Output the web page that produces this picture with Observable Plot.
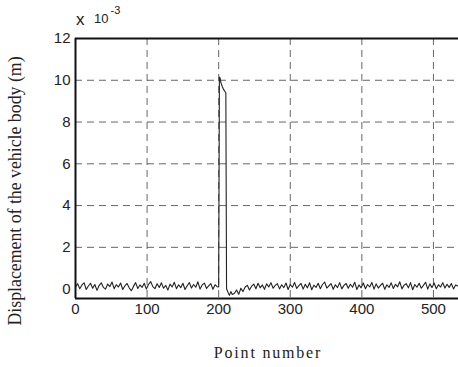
<!DOCTYPE html>
<html>
<head>
<meta charset="utf-8">
<script src="https://cdn.jsdelivr.net/npm/d3@7"></script>
<script src="https://cdn.jsdelivr.net/npm/@observablehq/plot@0.6"></script>
<style>
html,body{margin:0;padding:0;background:#fff;}
</style>
</head>
<body>
<div id="chart"></div>
<script>
const xTicks = [0, 100, 200, 300, 400, 500];
const yTicks = [0, 2, 4, 6, 8, 10, 12];
const yLabel = "Displacement of the vehicle body (m)";
const xLabel = "Point number";
const scaleBase = "10";
const scaleExp = "-3";

// displacement (x 10^-3 m), points 0..198 every 3 points
const preSpike = [
  0.10,0.26,0.02,0.20,0.30,-0.02,0.15,0.28,0.04,0.22,
  -0.06,0.17,0.30,0.08,0.00,0.24,0.12,0.34,0.02,0.21,
  0.10,0.29,-0.02,0.16,0.27,0.06,-0.08,0.13,0.31,0.03,
  0.20,0.08,0.28,0.00,0.22,0.36,0.12,0.02,0.26,0.08,
  0.30,0.04,0.18,-0.05,0.24,0.10,0.33,0.02,0.21,0.07,
  0.28,-0.02,0.16,0.31,0.05,0.22,0.09,0.35,0.00,0.20,
  0.29,0.03,0.15,0.26,-0.01,0.21,0.11
];
// spike region
const spikeX = [200,201,202,203,205,207,209,210,211,213,215,217,219];
const spikeY = [0.10,10.15,10.10,9.90,9.70,9.55,9.45,9.40,0.02,-0.15,-0.30,-0.12,-0.26];
// points 222..534 every 3 points
const postSpike = [
  -0.20,-0.04,-0.25,0.04,-0.12,0.10,0.18,-0.04,0.14,0.24,
  0.02,0.28,0.06,0.20,-0.01,0.25,0.10,0.31,0.04,0.18,
  0.26,0.01,0.21,0.07,0.29,-0.02,0.22,0.09,0.32,0.03,
  0.17,0.27,0.00,0.23,0.06,0.30,-0.03,0.19,0.08,0.28,
  0.02,0.22,0.34,0.05,0.16,0.26,-0.01,0.21,0.07,0.31,
  0.01,0.18,0.27,0.04,0.23,0.09,0.33,-0.02,0.20,0.06,
  0.29,0.02,0.22,0.10,0.32,0.00,0.25,0.05,0.18,0.28,
  -0.01,0.21,0.08,0.30,0.03,0.23,0.11,0.35,0.01,0.19,
  0.26,0.06,0.31,-0.03,0.22,0.09,0.28,0.04,0.18,0.33,
  0.00,0.25,0.07,0.29,0.02,0.21,0.10,0.31,0.05,0.23,
  0.08,0.27,0.01,0.20,0.15
];

const data = [];
preSpike.forEach((v, i) => data.push({x: i * 3, y: v}));
spikeX.forEach((x, i) => data.push({x, y: spikeY[i]}));
postSpike.forEach((v, i) => data.push({x: 222 + i * 3, y: v}));

const yMin = -0.45, yMax = 12;

const chart = Plot.plot({
  width: 458,
  height: 367,
  marginLeft: 75,
  marginRight: 0,
  marginTop: 38,
  marginBottom: 69,
  style: {fontFamily: "'Liberation Sans', Arial, sans-serif", fontSize: "15px", color: "#222", background: "#fff"},
  x: {domain: [0, 535]},
  y: {domain: [yMin, yMax]},
  marks: [
    Plot.ruleX(xTicks.slice(1), {stroke: "#555", strokeWidth: 0.9, strokeDasharray: "7,5"}),
    Plot.ruleY(yTicks.slice(1, -1), {stroke: "#555", strokeWidth: 0.9, strokeDasharray: "7,5"}),
    Plot.line(data, {x: "x", y: "y", stroke: "#222", strokeWidth: 1.1}),
    Plot.ruleX([0], {stroke: "#111", strokeWidth: 2}),
    Plot.ruleY([yMin], {stroke: "#111", strokeWidth: 2}),
    Plot.ruleY([yMax], {stroke: "#111", strokeWidth: 2}),
    Plot.axisX({ticks: xTicks, tickSize: 0, tickPadding: 5, label: null, letterSpacing: 1.6}),
    Plot.axisY({ticks: yTicks, tickSize: 0, tickPadding: 5, label: null})
  ]
});

const svg = d3.select(chart);
svg.append("text")
  .attr("x", 76).attr("y", 25)
  .attr("text-anchor", "start")
  .attr("font-family", "'Liberation Sans', Arial, sans-serif")
  .attr("font-size", 17).attr("fill", "#222")
  .text("x");
const t = svg.append("text")
  .attr("x", 94).attr("y", 23)
  .attr("text-anchor", "start")
  .attr("font-family", "'Liberation Sans', Arial, sans-serif")
  .attr("font-size", 13).attr("fill", "#222")
  .text(scaleBase);
t.append("tspan").attr("dy", -9).attr("dx", 2).attr("font-size", 11).text(scaleExp);

svg.append("text")
  .attr("transform", "translate(21,191) rotate(-90)")
  .attr("text-anchor", "middle")
  .attr("font-family", "'Liberation Serif', 'Times New Roman', serif")
  .attr("font-size", 17.8).attr("fill", "#222")
  .text(yLabel);

svg.append("text")
  .attr("x", 268).attr("y", 358)
  .attr("text-anchor", "middle")
  .attr("font-family", "'Liberation Serif', 'Times New Roman', serif")
  .attr("font-size", 16).attr("letter-spacing", 1.8).attr("fill", "#222")
  .text(xLabel);

document.getElementById("chart").appendChild(chart);
</script>
</body>
</html>
